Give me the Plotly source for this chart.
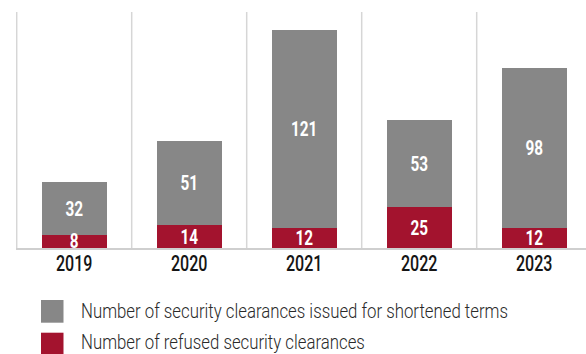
import plotly.graph_objects as go

# Security clearance statistics by year
years = ["2019", "2020", "2021", "2022", "2023"]
refused = [8, 14, 12, 25, 12]
shortened = [32, 51, 121, 53, 98]

legend_labels = [
    "Number of security clearances issued for shortened terms",
    "Number of refused security clearances",
]

RED = "#a3132e"
GRAY = "#878787"
GRID = "#d6d6d6"
FONT = "Roboto, sans-serif"
TEXT_SCALE_X = 0.73     # horizontal squeeze giving a condensed face
LEGEND_SCALE_X = 0.80

W, H = 586, 354
ML, MR, MT, MB = 16, 0, 12, 106
plot_w = W - ML - MR
plot_h = H - MT - MB
cat_px = 115.0          # width of one year slot in pixels
px_per_unit = 1.64      # vertical scale

x = list(range(len(years)))
x0 = -0.506
x_range = [x0, x0 + plot_w / cat_px]
y_range = [0, plot_h / px_per_unit]

label_font = dict(family=FONT, size=21, color="white", weight="bold")

fig = go.Figure()
# shortened-term segment sits on top of the refused segment
fig.add_trace(go.Bar(
    x=x, y=shortened, base=refused, width=0.565,
    marker=dict(color=GRAY, line=dict(width=0)),
    text=shortened, textposition="inside", insidetextanchor="middle",
    textangle=0, constraintext="none", textfont=label_font,
    hoverinfo="skip", showlegend=False,
))
fig.add_trace(go.Bar(
    x=x, y=refused, width=0.565,
    marker=dict(color=RED, line=dict(width=0)),
    text=refused, textposition="inside", insidetextanchor="middle",
    textangle=0, constraintext="none", textfont=label_font,
    hoverinfo="skip", showlegend=False,
))

shapes = []
# vertical separators between years
for i in range(len(years)):
    shapes.append(dict(type="line", xref="x", yref="paper",
                       x0=i - 0.5, x1=i - 0.5, y0=0, y1=1,
                       line=dict(color=GRID, width=1.5), layer="below"))


def px_to_paper_x(px):
    return (px - ML) / plot_w


def px_to_paper_y(py):
    return (H - MB - py) / plot_h


annotations = []
legend_rows = [(legend_labels[0], GRAY, 300, 322.7, 310.5),
               (legend_labels[1], RED, 332.7, 355, 341.5)]
for label, color, top, bottom, text_y in legend_rows:
    shapes.append(dict(type="rect", xref="paper", yref="paper",
                       x0=px_to_paper_x(41), x1=px_to_paper_x(63.5),
                       y0=px_to_paper_y(bottom), y1=px_to_paper_y(top),
                       fillcolor=color, line=dict(width=0)))
    annotations.append(dict(xref="paper", yref="paper",
                            x=px_to_paper_x(79), y=px_to_paper_y(text_y),
                            xanchor="left", yanchor="middle", align="left",
                            showarrow=False, text=label,
                            font=dict(family=FONT, size=21, color="#2a2a2a", weight=300)))

fig.update_layout(
    width=W, height=H,
    margin=dict(l=ML, r=MR, t=MT, b=MB, pad=0),
    paper_bgcolor="white", plot_bgcolor="white",
    barmode="overlay", bargap=0,
    shapes=shapes, annotations=annotations,
    xaxis=dict(range=x_range, tickvals=x, ticktext=years, showgrid=False,
               zeroline=False, showline=True, linecolor="#cfcfcf", linewidth=2,
               ticks="", ticklabelstandoff=-5,
               tickfont=dict(family=FONT, size=22, color="#151515", weight=500),
               fixedrange=True),
    yaxis=dict(range=y_range, visible=False, showgrid=False, zeroline=False,
               fixedrange=True),
    showlegend=False,
)

# Squeeze every text element horizontally around its anchor point
condense_js = """
var gd = document.getElementById('{plot_id}');
gd.querySelectorAll('svg text').forEach(function (t) {
  var sx = t.classList.contains('annotation-text') ? %s : %s;
  var bb = t.getBBox();
  var anchor = t.getAttribute('text-anchor') || window.getComputedStyle(t).textAnchor;
  var ax = bb.x + bb.width / 2;
  if (anchor === 'start') { ax = bb.x; }
  else if (anchor === 'end') { ax = bb.x + bb.width; }
  var tr = t.getAttribute('transform') || '';
  t.setAttribute('transform', tr + ' translate(' + ax + ',0) scale(' + sx + ',1) translate(' + (-ax) + ',0)');
});
""" % (LEGEND_SCALE_X, TEXT_SCALE_X)

fig.write_html("out.html", post_script=condense_js, config={"staticPlot": True})
